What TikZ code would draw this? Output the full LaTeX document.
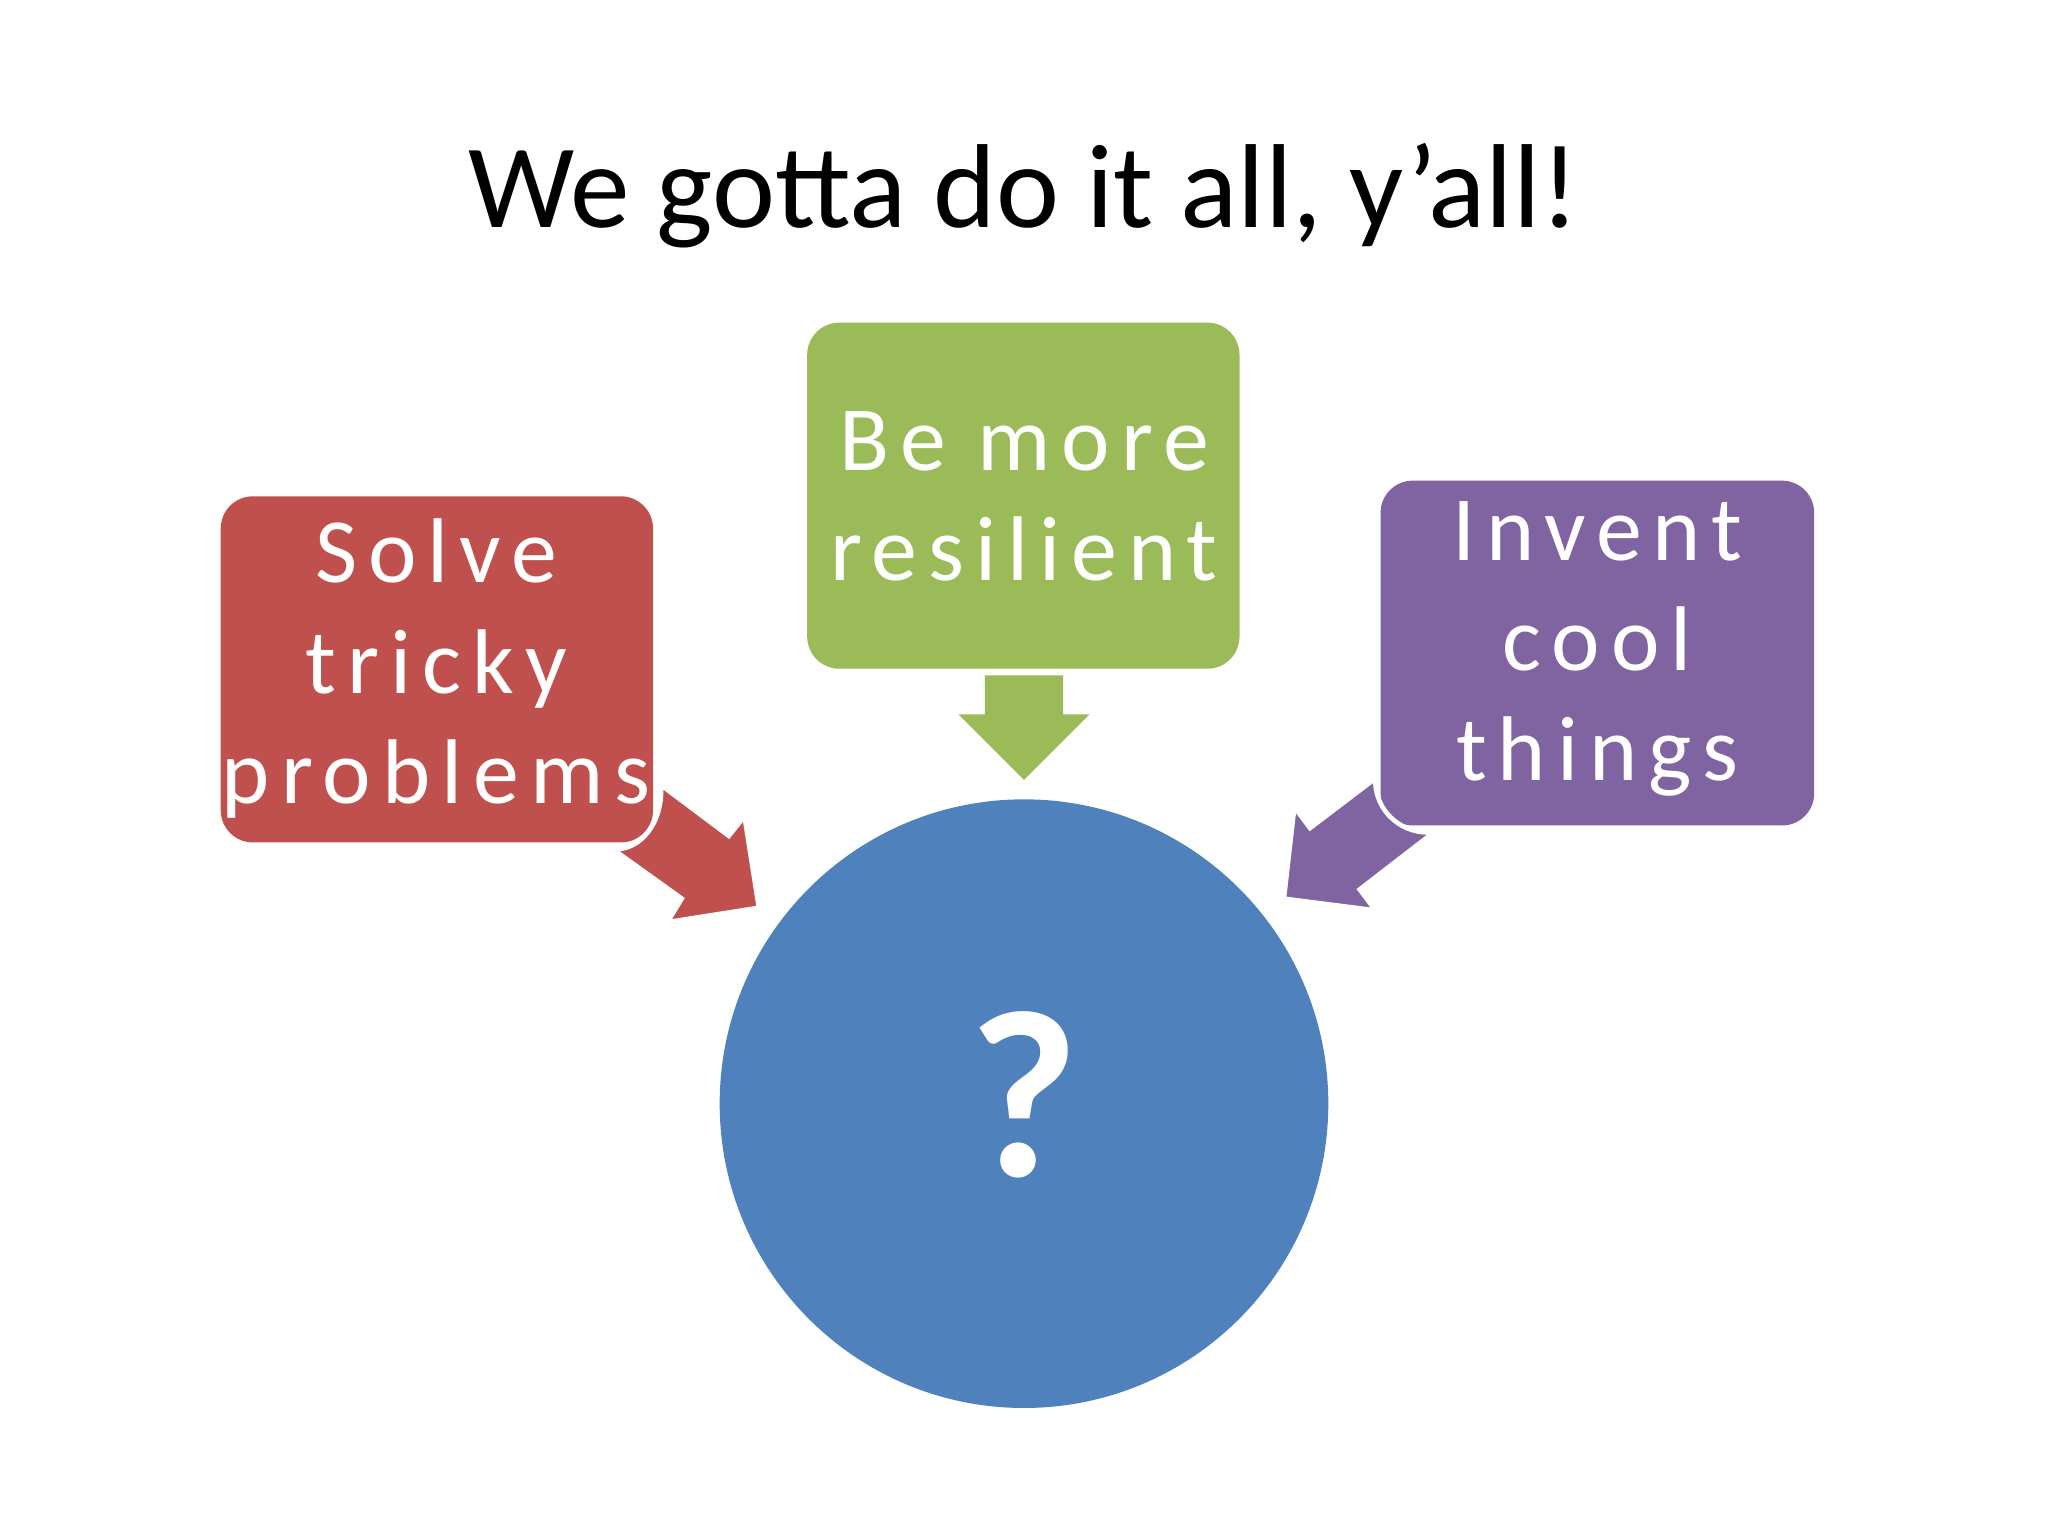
\documentclass[tikz,border=0pt]{standalone}
\usepackage{fontspec}
\setmainfont{Carlito}
\definecolor{cred}{HTML}{C0504D}
\definecolor{cgreen}{HTML}{9BBB59}
\definecolor{cpurple}{HTML}{8064A2}
\definecolor{cblue}{HTML}{4F81BD}
\begin{document}
\begin{tikzpicture}[x=0.01cm,y=-0.01cm,
  boxtxt/.style={text=white,font=\fontsize{20}{22}\selectfont\addfontfeature{LetterSpace=12},align=center},
  arrowshape/.style={draw=white,line width=1pt}]
\useasboundingbox (0,0) rectangle (1568,1176);
\node (title) at (784,150) {\fontsize{26}{30}\selectfont We gotta do it all, y’all!};
% boxes
\fill[cred,rounded corners=7pt] (169,380) rectangle (500,645);
\fill[cgreen,rounded corners=7pt] (618,247) rectangle (949,512);
\fill[cpurple,rounded corners=7pt] (1057,368) rectangle (1389,632);
\node[boxtxt] (red) at (334,512) {Solve\\[2pt]tricky\\[2pt]problems};
\node[boxtxt] (green) at (784,380) {Be more\\[2pt]resilient};
\node[boxtxt] (purple) at (1223,497) {Invent\\[2pt]cool\\[2pt]things};
% circle
\fill[cblue] (784,845) ellipse [x radius=233, y radius=233];
\node[text=white,font=\fontsize{52}{56}\selectfont\bfseries] (q) at (784,838) {?};
% arrows
\fill[cgreen] (754,517) -- (814,517) -- (814,547) -- (834,547) -- (784,597) -- (734,547) -- (754,547) -- cycle;
\filldraw[cred,arrowshape] (506,601) -- (558,640) -- (570,625) -- (581,695) -- (511,706) -- (522,688) -- (469,650)
  .. controls (490,652) and (508,630) .. (506,601) -- cycle;
\filldraw[cpurple,arrowshape] (1053,596) -- (1003,634) -- (991,618) -- (983,688) -- (1053,697) -- (1041,681) -- (1098,637)
  .. controls (1075,640) and (1052,622) .. (1053,596) -- cycle;
\end{tikzpicture}
\end{document}
